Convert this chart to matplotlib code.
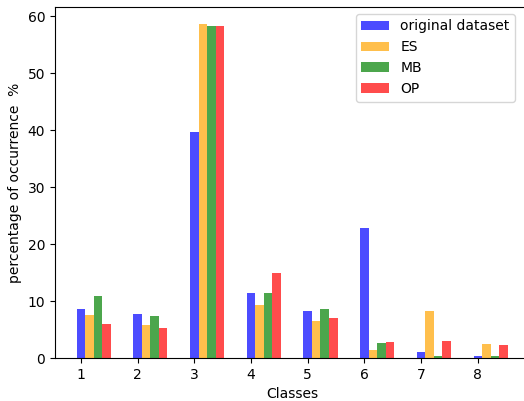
import numpy as np
import matplotlib
matplotlib.use("Agg")
import matplotlib.pyplot as plt

# Class distribution (% of samples per class)
classes = np.arange(1, 9)
original = [8.7, 7.8, 39.7, 11.5, 8.2, 22.9, 1.0, 0.35]
es = [7.5, 5.8, 58.7, 9.4, 6.5, 1.5, 8.2, 2.5]
mb = [10.9, 7.4, 58.2, 11.5, 8.55, 2.7, 0.45, 0.45]
op = [6.0, 5.3, 58.2, 15.0, 7.1, 2.9, 3.05, 2.35]

w = 0.15

fig = plt.figure(figsize=(5.24, 4.01), dpi=100)
ax = fig.add_axes([0.105, 0.107, 0.905, 0.876])

ax.bar(classes, original, w, color='blue', alpha=0.7, label='original dataset')
ax.bar(classes + w, es, w, color='orange', alpha=0.7, label='ES')
ax.bar(classes + 2 * w, mb, w, color='green', alpha=0.7, label='MB')
ax.bar(classes + 3 * w, op, w, color='red', alpha=0.7, label='OP')

ax.set_xticks(classes)
ax.set_xlabel("Classes")
ax.set_ylabel("percentage of occurrence  %")
ax.legend(loc='upper right', bbox_to_anchor=(0.985, 1.0))

plt.savefig("out.png", dpi=100)
